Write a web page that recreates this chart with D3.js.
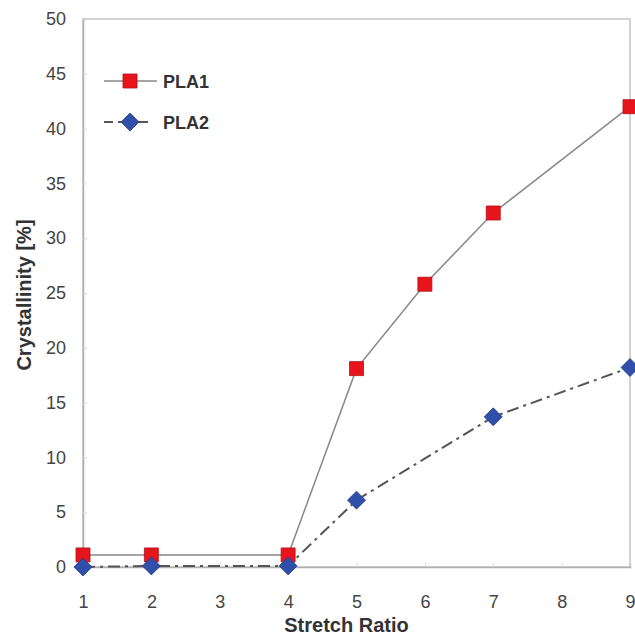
<!DOCTYPE html>
<html><head><meta charset="utf-8">
<script src="https://cdn.jsdelivr.net/npm/d3@7"></script>
<style>body{margin:0;background:#fff}</style>
</head><body>
<svg id="c" width="635" height="638"></svg>
<script>
const xTicks = [1,2,3,4,5,6,7,8,9];
const yTicks = [0,5,10,15,20,25,30,35,40,45,50];
const pla1X = [1,2,4,5,6,7,9];
const pla1Y = [1.1,1.1,1.1,18.1,25.8,32.3,42.0];
const pla2X = [1,2,4,5,7,9];
const pla2Y = [0.0,0.1,0.1,6.1,13.7,18.2];
const seriesNames = ["PLA1","PLA2"];

const svg = d3.select("#c");
const L=83,R=630,T=19,B=567;
const x = d3.scaleLinear().domain([1,9]).range([L,R]);
const y = d3.scaleLinear().domain([0,50]).range([B,T]);

svg.append("rect").attr("x",L).attr("y",T).attr("width",R-L).attr("height",B-T)
  .attr("fill","none").attr("stroke","#c4c4c4").attr("stroke-width",1.5);

const fontF = "Arial, 'Liberation Sans', sans-serif";
const xa = svg.append("g").attr("transform",`translate(0,${B})`)
  .call(d3.axisBottom(x).tickValues(xTicks).tickFormat(d3.format("d")).tickSize(-4).tickPadding(28));
xa.select(".domain").attr("stroke","#b0b0b0").attr("stroke-width",1.5);
xa.selectAll(".tick line").attr("stroke","#d8d8d8");
xa.selectAll("text").attr("font-family",fontF).attr("font-size",18).attr("fill","#444");

const ya = svg.append("g").attr("transform",`translate(${L},0)`)
  .call(d3.axisLeft(y).tickValues(yTicks).tickFormat(d3.format("d")).tickSize(-4).tickPadding(17));
ya.select(".domain").attr("stroke","#b0b0b0").attr("stroke-width",1.5);
ya.selectAll(".tick line").attr("stroke","#d8d8d8");
ya.selectAll("text").attr("font-family",fontF).attr("font-size",18).attr("fill","#444");

svg.append("text").attr("x",(L+R)/2-10).attr("y",632).attr("text-anchor","middle")
  .attr("font-family",fontF).attr("font-weight","bold").attr("font-size",20).attr("fill","#333")
  .text("Stretch Ratio");
svg.append("text").attr("transform",`translate(31,${(T+B)/2+2}) rotate(-90)`).attr("text-anchor","middle")
  .attr("font-family",fontF).attr("font-weight","bold").attr("font-size",20).attr("fill","#333")
  .text("Crystallinity [%]");

const d1 = pla1X.map((v,i)=>[v,pla1Y[i]]);
const d2 = pla2X.map((v,i)=>[v,pla2Y[i]]);
const line = d3.line().x(d=>x(d[0])).y(d=>y(d[1]));

svg.append("path").attr("d",line(d2)).attr("fill","none").attr("stroke","#555")
  .attr("stroke-width",2).attr("stroke-dasharray","12,5,3,5");
svg.append("path").attr("d",line(d1)).attr("fill","none").attr("stroke","#888").attr("stroke-width",1.5);

const sq = d3.symbol().type(d3.symbolSquare).size(196);
const di = "M0,-9L9,0L0,9L-9,0Z";
svg.selectAll(".p1").data(d1).join("path").attr("d",sq)
  .attr("transform",d=>`translate(${x(d[0])},${y(d[1])})`)
  .attr("fill","#e8141c").attr("stroke","#b01018").attr("stroke-width",0.8);
svg.selectAll(".p2").data(d2).join("path").attr("d",di)
  .attr("transform",d=>`translate(${x(d[0])},${y(d[1])})`)
  .attr("fill","#2f4fa8").attr("stroke","#233d85").attr("stroke-width",0.8);

const lg = svg.append("g");
lg.append("line").attr("x1",104).attr("x2",157).attr("y1",81).attr("y2",81).attr("stroke","#888").attr("stroke-width",1.5);
lg.append("path").attr("d",sq).attr("transform","translate(130,81)").attr("fill","#e8141c").attr("stroke","#b01018").attr("stroke-width",0.8);
lg.append("text").attr("x",163).attr("y",88).attr("font-family",fontF).attr("font-weight","bold").attr("font-size",18).attr("fill","#333").text(seriesNames[0]);
lg.append("line").attr("x1",104).attr("x2",157).attr("y1",122).attr("y2",122).attr("stroke","#555").attr("stroke-width",2).attr("stroke-dasharray","9,5,30,20");
lg.append("path").attr("d",di).attr("transform","translate(130,122)").attr("fill","#2f4fa8").attr("stroke","#233d85").attr("stroke-width",0.8);
lg.append("text").attr("x",163).attr("y",129).attr("font-family",fontF).attr("font-weight","bold").attr("font-size",18).attr("fill","#333").text(seriesNames[1]);
</script>
</body></html>
